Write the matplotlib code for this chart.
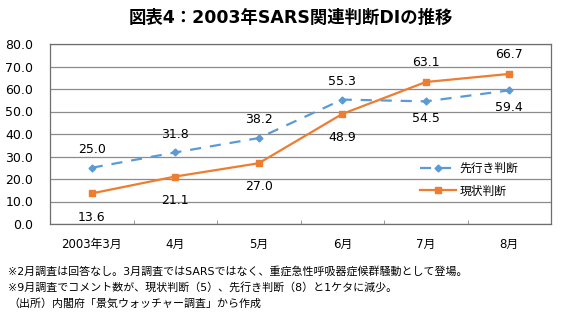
import numpy as np
import matplotlib.pyplot as plt

plt.rcParams['font.family'] = ['DejaVu Sans', 'Noto Sans CJK JP']

# データ
months = ['2003年3月', '4月', '5月', '6月', '7月', '8月']
sakiyuki = [25.0, 31.8, 38.2, 55.3, 54.5, 59.4]   # 先行き判断
genjo = [13.6, 21.1, 27.0, 48.9, 63.1, 66.7]       # 現状判断
# ラベル位置 (1:上, -1:下)
pos_saki = [1, 1, 1, 1, -1, -1]
pos_gen = [-1, -1, -1, -1, 1, 1]

blue = '#5B9BD5'
orange = '#ED7D31'

fig = plt.figure(figsize=(5.81, 3.34), dpi=100)
ax = fig.add_axes([50/581, 1-224/334, 501/581, 180/334])

x = np.arange(len(months))
ax.plot(x, sakiyuki, color=blue, lw=1.6, ls=(0, (5, 4)), marker='D',
        ms=3.5, label='先行き判断', zorder=3)
ax.plot(x, genjo, color=orange, lw=1.6, marker='s', ms=5,
        label='現状判断', zorder=3)

for xi, v, p in zip(x, sakiyuki, pos_saki):
    ax.annotate(f'{v:.1f}', (xi, v), xytext=(0, 13 if p > 0 else -12),
                textcoords='offset points', ha='center', va='center', fontsize=9)
for xi, v, p in zip(x, genjo, pos_gen):
    ax.annotate(f'{v:.1f}', (xi, v), xytext=(0, 14 if p > 0 else -17),
                textcoords='offset points', ha='center', va='center', fontsize=9)

ax.set_xlim(-0.5, 5.5)
ax.set_ylim(0, 80)
ax.set_yticks(np.arange(0, 81, 10))
ax.set_yticklabels([f'{t:.1f}' for t in range(0, 81, 10)], fontsize=9)
ax.set_xticks(x)
ax.set_xticklabels(months, fontsize=8.5)
ax.tick_params(axis='x', length=0, pad=10)
ax.tick_params(axis='y', length=0, pad=12)
ax.set_xticks(np.arange(0.5, 5), minor=True)
ax.tick_params(axis='x', which='minor', direction='in', length=3, color='#888888')
ax.grid(axis='y', color='#8c8c8c', lw=0.9)
ax.set_axisbelow(True)
for s in ax.spines.values():
    s.set_color('#6e6e6e')
    s.set_linewidth(0.9)

ax.legend(loc='upper left', bbox_to_anchor=(0.73, 0.37), frameon=False,
          fontsize=8.5, handlelength=3.0, borderaxespad=0, labelspacing=0.8,
          handletextpad=0.3)

fig.text(0.5, 1-18/334, '図表4：2003年SARS関連判断DIの推移', ha='center',
         va='center', fontsize=12.5, fontweight='bold')

notes = ['※2月調査は回答なし。3月調査ではSARSではなく、重症急性呼吸器症候群騒動として登場。',
         '※9月調査でコメント数が、現状判断（5）、先行き判断（8）と1ケタに減少。',
         '（出所）内閣府「景気ウォッチャー調査」から作成']
for i, t in enumerate(notes):
    fig.text(8/581, 1-(271+16.5*i)/334, t, ha='left', va='center', fontsize=7.9)

fig.savefig('out.png', dpi=100)
